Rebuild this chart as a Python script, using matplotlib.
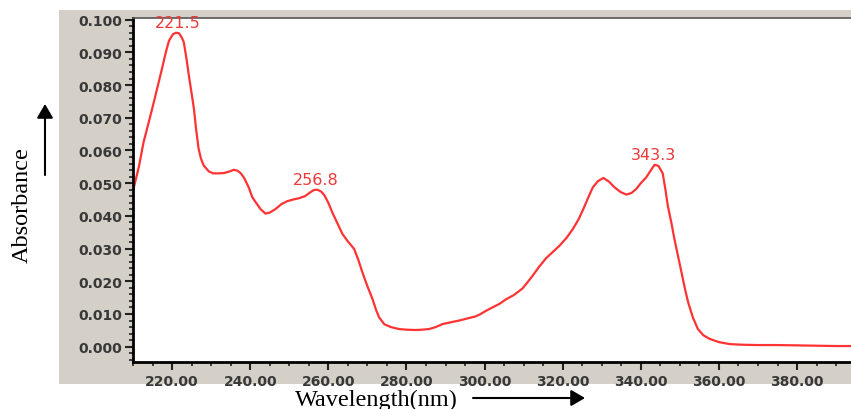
import numpy as np
import matplotlib.pyplot as plt
from matplotlib.patches import Rectangle, FancyArrowPatch
from matplotlib.ticker import MultipleLocator, FormatStrFormatter

# Spectrum (wavelength in nm, absorbance)
wavelength = [210.0, 211.5, 212.7, 214.0, 214.9, 216.2, 217.4, 218.4, 219.2, 220.2,
              221.0, 221.8, 222.5, 223.0, 223.7, 224.3, 225.0, 225.6, 226.2, 226.8,
              227.4, 228.1, 229.4, 230.5, 232.0, 233.3, 234.8, 235.8, 236.8, 237.6,
              238.5, 239.7, 240.5, 241.5, 242.7, 243.9, 245.0, 246.5, 248.0, 249.5,
              251.0, 252.5, 254.0, 255.5, 256.3, 257.2, 258.2, 259.0, 260.0, 261.0,
              262.3, 263.6, 265.0, 266.6, 267.7, 268.7, 270.0, 271.3, 272.3, 273.0,
              274.3, 276.0, 278.1, 280.0, 282.4, 284.0, 285.8, 287.5, 289.2, 291.5,
              293.5, 295.5, 297.8, 299.0, 300.4, 302.0, 303.8, 305.5, 307.5, 309.7,
              311.0, 312.3, 314.0, 315.7, 317.5, 319.2, 321.0, 322.6, 324.0, 325.1,
              326.5, 327.7, 329.0, 330.4, 331.8, 333.3, 334.8, 336.3, 337.6, 338.8,
              340.0, 341.4, 342.6, 343.5, 344.5, 345.6, 346.3, 346.9, 347.8, 348.6,
              349.5, 350.4, 351.2, 352.1, 353.3, 354.6, 356.0, 357.6, 360.0, 362.7,
              366.0, 370.0, 375.0, 380.0, 385.0, 390.0, 394.0]
absorbance = [0.0476, 0.0550, 0.0625, 0.0685, 0.0727, 0.0790, 0.0849, 0.0900, 0.0935, 0.0955,
              0.0960, 0.0958, 0.0945, 0.0931, 0.0880, 0.0829, 0.0775, 0.0727, 0.0660, 0.0605,
              0.0575, 0.0554, 0.0536, 0.0530, 0.0530, 0.0531, 0.0536, 0.0541, 0.0538, 0.0530,
              0.0515, 0.0485, 0.0458, 0.0440, 0.0420, 0.0407, 0.0410, 0.0421, 0.0436, 0.0445,
              0.0450, 0.0454, 0.0460, 0.0473, 0.0479, 0.0480, 0.0474, 0.0463, 0.0440, 0.0411,
              0.0378, 0.0345, 0.0322, 0.0299, 0.0265, 0.0228, 0.0185, 0.0146, 0.0110, 0.0090,
              0.0069, 0.0060, 0.0054, 0.0052, 0.0051, 0.0052, 0.0054, 0.0060, 0.0069, 0.0075,
              0.0080, 0.0086, 0.0093, 0.0100, 0.0110, 0.0120, 0.0131, 0.0145, 0.0158, 0.0178,
              0.0197, 0.0217, 0.0245, 0.0270, 0.0290, 0.0309, 0.0333, 0.0360, 0.0388, 0.0416,
              0.0455, 0.0487, 0.0506, 0.0516, 0.0505, 0.0487, 0.0473, 0.0465, 0.0470, 0.0482,
              0.0500, 0.0518, 0.0540, 0.0556, 0.0553, 0.0530, 0.0480, 0.0431, 0.0380, 0.0329,
              0.0278, 0.0228, 0.0182, 0.0136, 0.0090, 0.0054, 0.0035, 0.0024, 0.0014, 0.0008,
              0.0006, 0.0005, 0.0005, 0.0004, 0.0003, 0.0002, 0.0002]

# Peak labels
peak_labels = ['221.5', '256.8', '343.3']
peak_x = [221.5, 256.8, 343.3]
peak_y = [0.0960, 0.0480, 0.0556]

W, H = 851, 410
fig = plt.figure(figsize=(W / 100, H / 100), dpi=100)

# gray instrument panel behind the plot
fig.patches.append(Rectangle((59 / W, 25 / H), 1 - 59 / W, (385 - 11) / H,
                             transform=fig.transFigure, facecolor='#d4d0c8',
                             edgecolor='none', zorder=-1))

ax = fig.add_axes([133 / W, (H - 363) / H, 1 - 133 / W, (363 - 19) / H])
ax.set_zorder(2)
ax.set_facecolor('white')

ax.plot(wavelength, absorbance, color='#ff3333', lw=1.6)

for lab, px, py in zip(peak_labels, peak_x, peak_y):
    ax.annotate(lab, (px, py), xytext=(0, 2), textcoords='offset points',
                ha='center', va='bottom', color='#ee3838', fontsize=11.5)

ax.set_xlim(210, 393.8)
ax.set_ylim(-0.00468, 0.1005)

ax.xaxis.set_major_locator(MultipleLocator(20))
ax.xaxis.set_minor_locator(MultipleLocator(5))
ax.xaxis.set_major_formatter(FormatStrFormatter('%.2f'))
ax.yaxis.set_major_locator(MultipleLocator(0.01))
ax.yaxis.set_minor_locator(MultipleLocator(0.002))
ax.yaxis.set_major_formatter(FormatStrFormatter('%.3f'))

ax.tick_params(which='major', length=6, width=1.5, color='#222222', pad=1.5)
ax.tick_params(which='minor', length=3, width=1.2, color='#222222')
ax.tick_params(axis='x', which='major', pad=3)
for t in ax.get_xticklabels() + ax.get_yticklabels():
    t.set_fontsize(10)
    t.set_fontweight('bold')
    t.set_color('#383838')

ax.spines['left'].set_linewidth(2)
ax.spines['bottom'].set_linewidth(2)
ax.spines['top'].set_linewidth(1.2)
ax.spines['top'].set_color('#555555')
ax.spines['right'].set_visible(False)

# axis titles with arrows, outside the panel
fig.text(22 / W, (H - 205) / H, 'Absorbance', rotation=90, ha='center', va='center',
         fontsize=17.5, family='Liberation Serif')
fig.text(295 / W, (H - 406) / H, 'Wavelength(nm)', ha='left', va='baseline',
         fontsize=17.5, family='Liberation Serif')

arrow_style = '-|>,head_length=0.6,head_width=0.35'
fig.add_artist(FancyArrowPatch((45 / W, (H - 176) / H), (45 / W, (H - 105) / H),
                               transform=fig.transFigure, arrowstyle=arrow_style,
                               mutation_scale=14, lw=1.5, color='black',
                               shrinkA=0, shrinkB=0))
fig.add_artist(FancyArrowPatch((473 / W, (H - 399) / H), (585 / W, (H - 399) / H),
                               transform=fig.transFigure, arrowstyle=arrow_style,
                               mutation_scale=14, lw=1.5, color='black',
                               shrinkA=0, shrinkB=0))

fig.savefig('out.png', dpi=100)
